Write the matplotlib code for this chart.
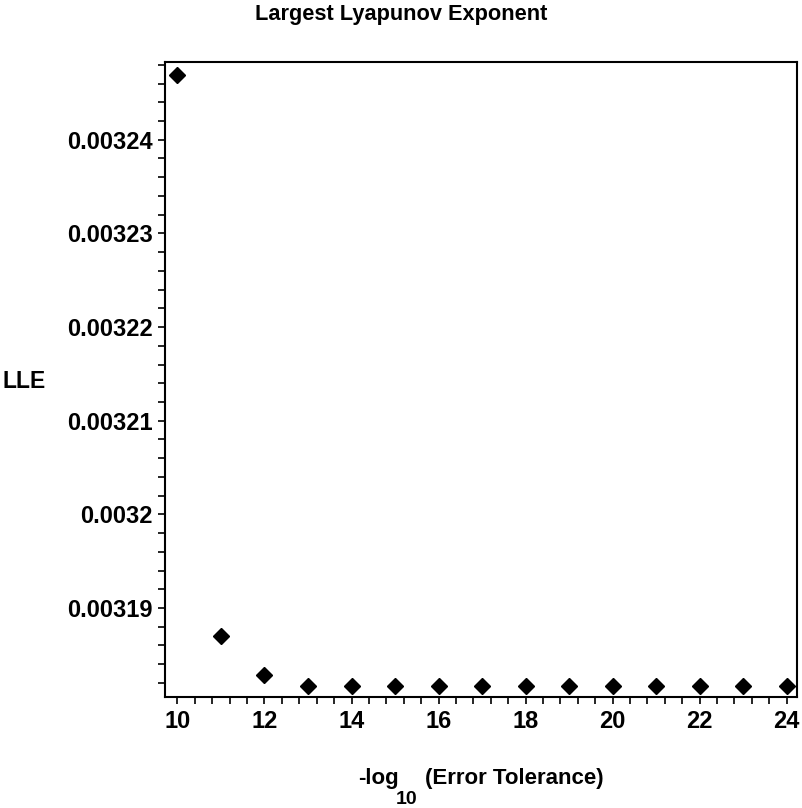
import matplotlib
matplotlib.use("Agg")
import matplotlib.pyplot as plt
from matplotlib.ticker import MultipleLocator, FuncFormatter

tolerance_exp = [10, 11, 12, 13, 14, 15, 16, 17, 18, 19, 20, 21, 22, 23, 24]
lle = [0.0032469, 0.0031870, 0.0031828, 0.0031817, 0.0031817, 0.0031817,
       0.0031817, 0.0031817, 0.0031817, 0.0031817, 0.0031817, 0.0031817,
       0.0031817, 0.0031817, 0.0031817]

plt.rcParams['font.family'] = ['Liberation Sans', 'DejaVu Sans']

W, H = 803, 808
fig = plt.figure(figsize=(W/100, H/100), dpi=100)
ax = fig.add_axes([165/W, 1-697/H, (797-165)/W, (697-62)/H])

ax.plot(tolerance_exp, lle, linestyle='none', marker='D', markersize=8, color='black')

ax.set_xlim(9.713, 24.24)
ax.set_ylim(0.0031805, 0.0032483)

ax.xaxis.set_major_locator(MultipleLocator(2))
ax.xaxis.set_minor_locator(MultipleLocator(0.4))
ax.yaxis.set_major_locator(MultipleLocator(0.00001))
ax.yaxis.set_minor_locator(MultipleLocator(0.000002))

def fmt(v, pos):
    return ('%.5f' % v).rstrip('0').rstrip('.')
ax.yaxis.set_major_formatter(FuncFormatter(fmt))

ax.tick_params(which='both', direction='out', top=False, right=False,
               length=5, width=1.2, labelsize=17, pad=4)
for lab in ax.get_xticklabels() + ax.get_yticklabels():
    lab.set_fontweight('bold')
for sp in ax.spines.values():
    sp.set_linewidth(1.5)

fig.text(255/W, 1-20/H, 'Largest Lyapunov Exponent', ha='left', va='baseline',
         fontsize=15.7, fontweight='bold')
fig.text(358/W, 1-784/H, '-log', ha='left', va='baseline',
         fontsize=16, fontweight='bold')
fig.text(396/W, 1-804/H, '10', ha='left', va='baseline',
         fontsize=14, fontweight='bold')
fig.text(425/W, 1-784/H, '(Error Tolerance)', ha='left', va='baseline',
         fontsize=16, fontweight='bold')
fig.text(24/W, 1-381/H, 'LLE', ha='center', va='center',
         fontsize=16.5, fontweight='bold')

fig.savefig('out.png', dpi=100)
